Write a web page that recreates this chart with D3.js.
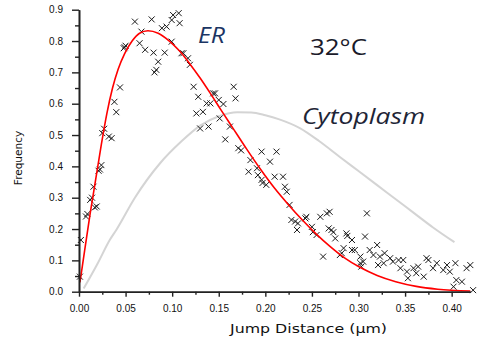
<!DOCTYPE html>
<html>
<head>
<meta charset="utf-8">
<script src="https://cdn.jsdelivr.net/npm/d3@7"></script>
<style>
  html, body { margin: 0; padding: 0; background: #fff; }
  #chart svg { display: block; }
</style>
</head>
<body>
<div id="chart"></div>
<script>
// --- DATA ---

const X_MAJOR = [0, 0.05, 0.10, 0.15, 0.20, 0.25, 0.30, 0.35, 0.40];
const X_MINOR = [0.025, 0.075, 0.125, 0.175, 0.225, 0.275, 0.325, 0.375];
const Y_MAJOR = [0, 0.1, 0.2, 0.3, 0.4, 0.5, 0.6, 0.7, 0.8, 0.9];
const Y_MINOR = [0.05, 0.15, 0.25, 0.35, 0.45, 0.55, 0.65, 0.75, 0.85];

// measured jump distances (x markers)
const ER_POINTS = [
  [0.001,0.048],[0.002,0.165],[0.0075,0.24],[0.009,0.248],[0.012,0.293],[0.014,0.30],
  [0.0155,0.335],[0.017,0.269],[0.019,0.272],[0.021,0.386],[0.024,0.404],[0.0225,0.39],
  [0.025,0.506],[0.027,0.52],[0.032,0.495],[0.035,0.49],[0.038,0.606],[0.040,0.573],
  [0.044,0.652],[0.048,0.777],[0.050,0.785],[0.049,0.78],
  [0.060,0.862],[0.065,0.793],[0.067,0.83],[0.071,0.772],[0.078,0.869],[0.080,0.763],
  [0.083,0.708],[0.081,0.70],[0.085,0.734],[0.089,0.841],[0.092,0.763],[0.094,0.846],
  [0.0995,0.867],[0.0995,0.798],[0.101,0.883],[0.107,0.889],[0.108,0.857],[0.110,0.761],
  [0.112,0.761],[0.117,0.745],[0.119,0.724],[0.123,0.654],[0.128,0.622],[0.126,0.569],
  [0.133,0.574],[0.137,0.601],[0.130,0.521],[0.139,0.527],[0.141,0.601],[0.144,0.633],
  [0.146,0.633],[0.150,0.612],[0.151,0.553],[0.155,0.599],[0.157,0.486],[0.162,0.527],
  [0.166,0.654],[0.168,0.617],
  [0.171,0.458],[0.174,0.451],[0.182,0.383],[0.184,0.420],[0.191,0.394],[0.192,0.372],
  [0.196,0.447],[0.196,0.357],[0.197,0.347],[0.201,0.341],[0.205,0.415],[0.210,0.367],
  [0.212,0.447],[0.219,0.367],[0.221,0.335],[0.223,0.319],[0.226,0.277],[0.228,0.229],
  [0.232,0.224],[0.234,0.197],[0.235,0.218],[0.243,0.234],[0.244,0.239],[0.250,0.207],
  [0.251,0.19],[0.255,0.181],[0.259,0.239],[0.262,0.112],[0.266,0.250],[0.268,0.202],
  [0.269,0.255],[0.271,0.197],[0.273,0.19],[0.275,0.170],
  [0.280,0.117],[0.282,0.123],[0.284,0.139],[0.287,0.186],[0.288,0.178],[0.293,0.165],
  [0.293,0.133],[0.296,0.133],[0.302,0.112],[0.302,0.091],[0.303,0.080],[0.305,0.096],
  [0.307,0.176],[0.309,0.250],[0.312,0.133],[0.316,0.117],[0.320,0.149],[0.321,0.085],
  [0.323,0.112],[0.327,0.091],[0.328,0.123],[0.334,0.107],[0.337,0.096],[0.343,0.101],
  [0.345,0.075],[0.348,0.101],[0.352,0.064],[0.353,0.043],[0.359,0.075],[0.362,0.059],
  [0.364,0.080],[0.370,0.048],[0.373,0.107],[0.375,0.101],[0.380,0.075],[0.384,0.091],
  [0.391,0.069],[0.395,0.085],[0.398,0.064],[0.402,0.016],[0.404,0.091],[0.405,0.037],
  [0.411,0.032],[0.416,0.075],[0.420,0.085],[0.423,0.005]
];

// ER fit (red)
const ER_FIT = [
  [0.001,0.03],[0.006,0.13],[0.012,0.25],[0.018,0.36],[0.024,0.47],[0.030,0.57],
  [0.036,0.65],[0.042,0.71],[0.049,0.76],[0.057,0.80],[0.065,0.825],[0.074,0.833],
  [0.085,0.825],[0.097,0.80],[0.108,0.768],[0.119,0.727],[0.130,0.682],[0.141,0.633],
  [0.152,0.582],[0.165,0.523],[0.180,0.455],[0.195,0.39],[0.210,0.33],[0.225,0.277],
  [0.240,0.228],[0.255,0.183],[0.270,0.143],[0.285,0.108],[0.302,0.077],[0.320,0.052],
  [0.340,0.032],[0.362,0.017],[0.385,0.008],[0.42,0.002]
];

// Cytoplasm curve (grey)
const CYTO_FIT = [
  [0.005,0.01],[0.02,0.09],[0.033,0.165],[0.040,0.197],[0.06,0.30],[0.087,0.41],
  [0.11,0.48],[0.13,0.53],[0.15,0.56],[0.17,0.573],[0.185,0.572],[0.20,0.563],
  [0.215,0.55],[0.237,0.522],[0.258,0.48],[0.28,0.43],[0.30,0.385],[0.32,0.34],
  [0.34,0.295],[0.36,0.25],[0.38,0.205],[0.403,0.158]
];

const LABELS = { x: "Jump Distance (\u03bcm)", y: "Frequency", er: "ER", temp: "32\u00b0C", cyto: "Cytoplasm" };

// --- LAYOUT ---
const WIDTH = 480;
const HEIGHT = 338;
const PLOT = { left: 79, right: 470.3, top: 9.7, bottom: 291.7 };

const x = d3.scaleLinear().domain([0, 0.42]).range([PLOT.left, PLOT.right]);
const y = d3.scaleLinear().domain([0, 0.9]).range([PLOT.bottom, PLOT.top]);

const svg = d3.select("#chart")
  .append("svg")
  .attr("width", WIDTH)
  .attr("height", HEIGHT)
  .attr("viewBox", [0, 0, WIDTH, HEIGHT])
  .style("font-family", "'DejaVu Sans', sans-serif");

// curves
const line = d3.line()
  .x(d => x(d[0]))
  .y(d => y(d[1]))
  .curve(d3.curveMonotoneX);

svg.append("path")
  .datum(CYTO_FIT)
  .attr("fill", "none")
  .attr("stroke", "#d4d4d4")
  .attr("stroke-width", 2)
  .attr("d", line);

// markers
const S = 3;
svg.append("g")
  .selectAll("path")
  .data(ER_POINTS)
  .join("path")
  .attr("d", d => {
    const cx = x(d[0]), cy = y(d[1]);
    return `M${cx - S},${cy - S}L${cx + S},${cy + S}M${cx - S},${cy + S}L${cx + S},${cy - S}`;
  })
  .attr("stroke", "#1a1a1a")
  .attr("stroke-width", 1);

svg.append("path")
  .datum(ER_FIT)
  .attr("fill", "none")
  .attr("stroke", "#ff0000")
  .attr("stroke-width", 1.6)
  .attr("d", line);

// axes
const styleAxis = g => {
  g.select(".domain").attr("stroke", "#222").attr("stroke-width", 1.6);
  g.selectAll(".tick line").attr("stroke", "#222").attr("stroke-width", 1.4);
  g.selectAll("text").attr("fill", "#111").attr("font-size", "10px");
};

svg.append("g")
  .attr("transform", `translate(0,${PLOT.bottom})`)
  .call(d3.axisBottom(x).tickValues(X_MINOR).tickSize(3).tickSizeOuter(0).tickFormat(""))
  .call(styleAxis);

svg.append("g")
  .attr("transform", `translate(0,${PLOT.bottom})`)
  .call(d3.axisBottom(x).tickValues(X_MAJOR).tickSize(5).tickSizeOuter(0).tickPadding(8)
    .tickFormat(d3.format(".2f")))
  .call(styleAxis);

svg.append("g")
  .attr("transform", `translate(${PLOT.left},0)`)
  .call(d3.axisLeft(y).tickValues(Y_MINOR).tickSize(4).tickSizeOuter(0).tickFormat(""))
  .call(styleAxis);

svg.append("g")
  .attr("transform", `translate(${PLOT.left},0)`)
  .call(d3.axisLeft(y).tickValues(Y_MAJOR).tickSize(7).tickSizeOuter(0).tickPadding(9)
    .tickFormat(d3.format(".1f")))
  .call(styleAxis);

// axis titles
svg.append("text")
  .attr("x", 230)
  .attr("y", 333)
  .attr("font-size", "13px")
  .attr("fill", "#111")
  .attr("textLength", 157)
  .attr("lengthAdjust", "spacingAndGlyphs")
  .text(LABELS.x);

svg.append("text")
  .attr("transform", "translate(22,158) rotate(-90)")
  .attr("text-anchor", "middle")
  .attr("font-size", "10.5px")
  .attr("fill", "#111")
  .text(LABELS.y);

// annotations
const note = (txt, px, py, len, italic, color) => svg.append("text")
  .attr("x", px)
  .attr("y", py)
  .attr("font-family", "'Open Sans', sans-serif")
  .attr("font-size", "21px")
  .attr("font-style", italic ? "italic" : "normal")
  .attr("fill", color)
  .attr("textLength", len)
  .attr("lengthAdjust", "spacingAndGlyphs")
  .text(txt);

note(LABELS.er, 198, 43, 27, true, "#1b3563");
note(LABELS.temp, 310, 55, 57, false, "#1a1a2a");
note(LABELS.cyto, 302, 124, 123, true, "#1e2536");
</script>
</body>
</html>
